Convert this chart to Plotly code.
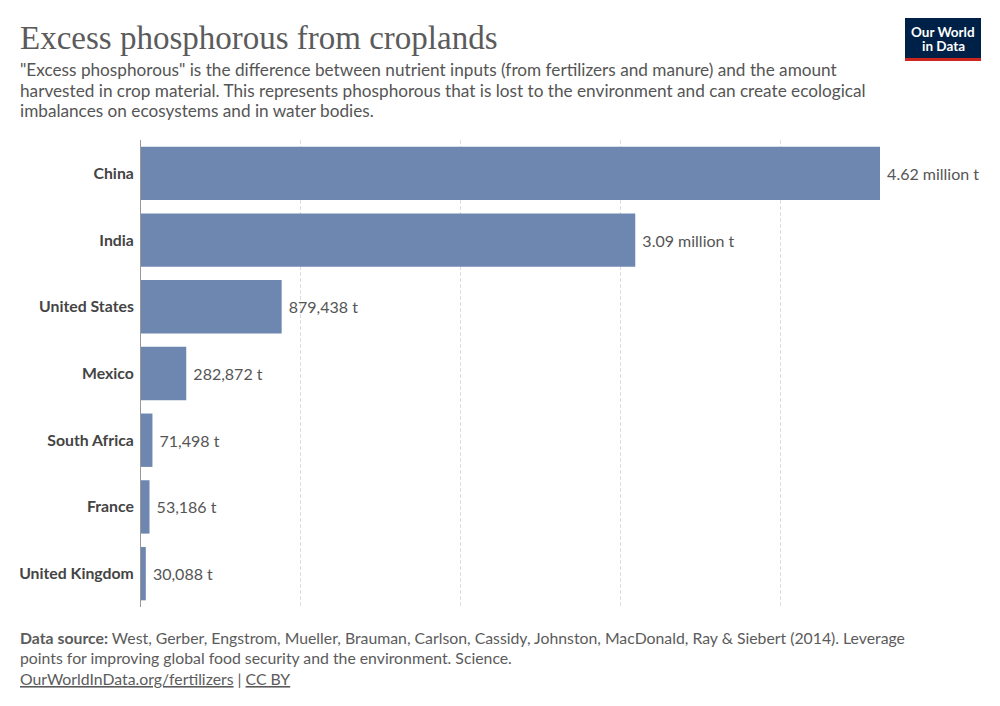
import plotly.graph_objects as go

countries = ["China", "India", "United States", "Mexico", "South Africa", "France", "United Kingdom"]
values = [4620000, 3090000, 879438, 282872, 71498, 53186, 30088]
gridvals = [1000000, 2000000, 3000000, 4000000]

def fmt(v):
    if v >= 1e6:
        return f"{v/1e6:.2f} million t"
    return f"{v:,} t"

labels = [fmt(v) for v in values]

# page offset (browser body margin)
O = 8
W, H = 1000 - O - 2, 706 - O - 2
# plot area in reference pixels
X0, X1, Y0, Y1 = 141, 880, 140, 607
L, T = X0 - O, Y0 - O
R, B = W - (X1 - O), H - (Y1 - O)
PW, PH = X1 - X0, Y1 - Y0

def px(x):
    return (x - X0) / PW

def py(y):
    return 1 - (y - Y0) / PH

fig = go.Figure(go.Bar(
    x=values, y=countries, orientation="h",
    marker=dict(color="#6e87b0", line=dict(width=0)),
    width=0.8,
    text=labels, texttemplate=" %{text}", textposition="outside", cliponaxis=False,
    textfont=dict(family="Lato", size=16, color="#555555"),
    hoverinfo="skip",
))

fig.update_layout(
    width=W, height=H,
    margin=dict(l=L, r=R, t=T, b=B, autoexpand=False),
    paper_bgcolor="white", plot_bgcolor="white",
    showlegend=False,
    font=dict(family="Lato", color="#555555"),
    xaxis=dict(range=[0, 4620000], tickvals=gridvals, showticklabels=False,
               showgrid=True, gridcolor="#dddddd", griddash="4px,2px", gridwidth=1,
               zeroline=False, showline=False, fixedrange=True, automargin=False),
    yaxis=dict(autorange="reversed", showline=True, linecolor="#999999", linewidth=1,
               showgrid=False, ticks="", ticklabelstandoff=3, automargin=False,
               tickfont=dict(family="Lato", size=15.8, color="#444444", weight="bold"),
               fixedrange=True),
)

P = dict(xref="paper", yref="paper", showarrow=False, xanchor="left", yanchor="middle", align="left")
ann = []
ann.append(dict(text="Excess phosphorous from croplands", x=px(18), y=py(38),
                font=dict(family="Liberation Serif", size=33, color="#5b5b5b"), **P))
sub_lines = [
    '"Excess phosphorous" is the difference between nutrient inputs (from fertilizers and manure) and the amount',
    'harvested in crop material. This represents phosphorous that is lost to the environment and can create ecological',
    'imbalances on ecosystems and in water bodies.',
]
for i, s in enumerate(sub_lines):
    ann.append(dict(text=s, x=px(18), y=py(69.5 + 20.6 * i),
                    font=dict(family="Lato", size=17.2, color="#555555"), **P))
foot_lines = [
    '<b>Data source:</b> West, Gerber, Engstrom, Mueller, Brauman, Carlson, Cassidy, Johnston, MacDonald, Ray &amp; Siebert (2014). Leverage',
    'points for improving global food security and the environment. Science.',
    '<u>OurWorldInData.org/fertilizers</u> | <u>CC BY</u>',
]
for i, s in enumerate(foot_lines):
    ann.append(dict(text=s, x=px(18), y=py(637 + 20.5 * i),
                    font=dict(family="Lato", size=15.8, color="#5b5b5b"), **P))
for i, s in enumerate(["Our World", "in Data"]):
    ann.append(dict(text=s, x=px(943), y=py(32 + 13.5 * i), xanchor="center", yanchor="middle",
                    showarrow=False, xref="paper", yref="paper",
                    font=dict(family="Lato", size=13.5, color="white", weight="bold")))
fig.update_layout(annotations=ann)

fig.update_layout(shapes=[
    dict(type="rect", xref="paper", yref="paper", x0=px(905), x1=px(981), y0=py(58), y1=py(18),
         fillcolor="#002147", line=dict(width=0), layer="below"),
    dict(type="rect", xref="paper", yref="paper", x0=px(905), x1=px(981), y0=py(61), y1=py(58),
         fillcolor="#ce261e", line=dict(width=0), layer="below"),
])

fig.write_html("out.html")
